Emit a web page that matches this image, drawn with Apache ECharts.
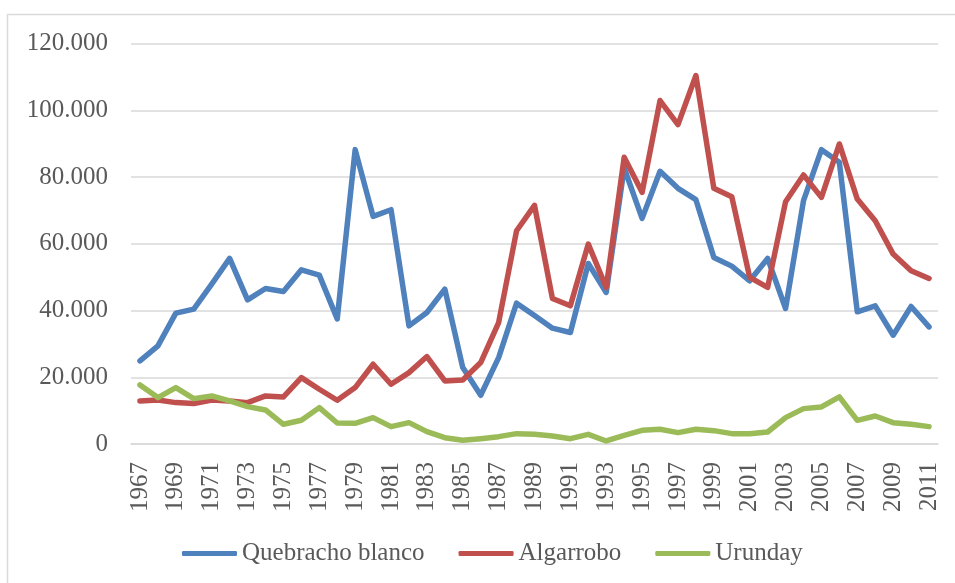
<!DOCTYPE html>
<html>
<head>
<meta charset="utf-8">
<script src="https://cdn.jsdelivr.net/npm/echarts@6/dist/echarts.min.js"></script>
<style>
  html, body { margin: 0; padding: 0; background: #ffffff; }
  #chart { width: 955px; height: 583px; }
</style>
</head>
<body>
<div id="chart"></div>
<script>
// Years on the category axis
const years = [];
for (let y = 1967; y <= 2011; y++) years.push(String(y));

// Production by species, one value per year
const quebrachoBlanco = [24900, 29400, 39200, 40400, 47900, 55600, 43200, 46600, 45700, 52200,
  50600, 37500, 88200, 68200, 70200, 35400, 39400, 46400, 22900, 14600,
  25900, 42200, 38500, 34700, 33400, 54100, 45400, 82700, 67600, 81700,
  76600, 73200, 55900, 53300, 48900, 55600, 40600, 72900, 88200, 84400,
  39600, 41400, 32600, 41200, 35100];

const algarrobo = [12900, 13200, 12400, 12100, 13200, 12900, 12400, 14400, 14100, 19900,
  16400, 13100, 16900, 23900, 17900, 21400, 26200, 18900, 19200, 24400,
  36400, 63900, 71500, 43600, 41400, 59900, 46900, 85900, 75400, 102900,
  95700, 110400, 76600, 74100, 49900, 46900, 72600, 80600, 73900, 89900,
  73400, 66900, 56900, 51900, 49600];

const urunday = [17700, 13900, 16900, 13600, 14400, 12900, 11200, 10200, 5900, 7100,
  10900, 6300, 6200, 7900, 5200, 6400, 3700, 1900, 1100, 1600,
  2200, 3100, 2900, 2400, 1600, 2900, 900, 2600, 4100, 4400,
  3400, 4400, 4000, 3100, 3100, 3600, 7900, 10600, 11100, 14100,
  7100, 8400, 6400, 5900, 5200];

const seriesNames = ['Quebracho blanco', 'Algarrobo', 'Urunday'];
const seriesColors = ['#4f81bd', '#c0504d', '#9bbb59'];
const seriesData = [quebrachoBlanco, algarrobo, urunday];

const FONT = '"Liberation Serif", "DejaVu Serif", serif';
const TEXT = '#595959';
const GRID = '#d9d9d9';

// Thousands separated with a dot: 120000 -> "120.000"
function dotThousands(v) {
  return String(Math.round(v)).replace(/\B(?=(\d{3})+(?!\d))/g, '.');
}

const chart = echarts.init(document.getElementById('chart'), null, { renderer: 'canvas' });

chart.setOption({
  backgroundColor: '#ffffff',
  animation: false,
  graphic: [{
    type: 'rect',
    shape: { x: 7.5, y: 14.5, width: 980, height: 620 },
    style: { fill: 'none', stroke: GRID, lineWidth: 1.5 },
    silent: true,
    z: -1
  }],
  grid: { left: 131, right: 17, top: 43.5, bottom: 139 },
  legend: {
    left: 177,
    top: 536,
    itemWidth: 55,
    itemHeight: 5,
    itemGap: 34,
    icon: 'roundRect',
    textStyle: { fontFamily: FONT, fontSize: 25, color: TEXT },
    data: seriesNames
  },
  xAxis: {
    type: 'category',
    data: years,
    boundaryGap: true,
    axisLine: { show: true, lineStyle: { color: GRID, width: 1.5 } },
    axisTick: { show: false },
    axisLabel: {
      interval: 1,
      rotate: 90,
      margin: 18,
      fontFamily: FONT,
      fontSize: 25,
      color: TEXT
    }
  },
  yAxis: {
    type: 'value',
    min: 0,
    max: 120000,
    interval: 20000,
    axisLine: { show: false },
    axisTick: { show: false },
    splitLine: { lineStyle: { color: GRID, width: 1.5 } },
    axisLabel: {
      margin: 23,
      fontFamily: FONT,
      fontSize: 25,
      color: TEXT,
      formatter: dotThousands
    }
  },
  series: seriesNames.map((name, i) => ({
    name: name,
    type: 'line',
    data: seriesData[i],
    symbol: 'none',
    color: seriesColors[i],
    lineStyle: { width: 5.5, color: seriesColors[i], cap: 'round', join: 'round' }
  }))
});
</script>
</body>
</html>
